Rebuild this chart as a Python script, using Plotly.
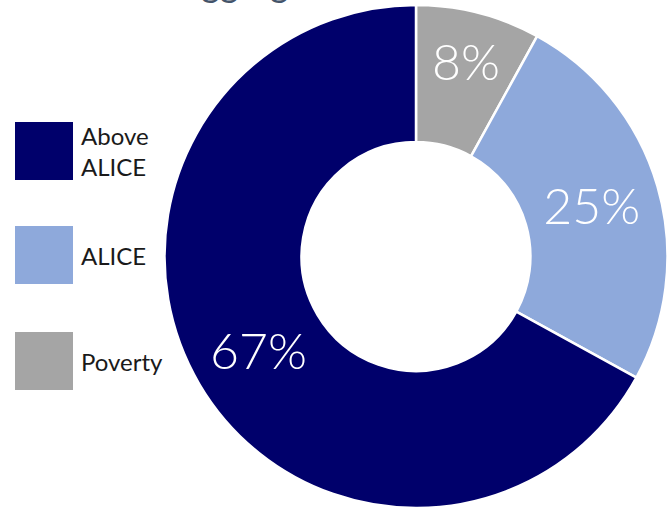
import plotly.graph_objects as go

# ---- data ----
labels = ["Poverty", "ALICE", "Above ALICE"]
values = [8, 25, 67]
pct_text = ["8%", "25%", "67%"]
colors = ["#A5A5A5", "#8EA9DB", "#00006B"]
legend_order = ["Above ALICE", "ALICE", "Poverty"]
legend_text = ["Above<br>ALICE", "ALICE", "Poverty"]
title_text = "Aggregate"

W, H = 672, 508

def px(x):
    return x / W

def py(y):
    return 1 - y / H

cx, r = 416, 251.5
fig = go.Figure(go.Pie(
    labels=labels,
    values=values,
    text=pct_text,
    textinfo="text",
    textposition="inside",
    insidetextorientation="horizontal",
    textfont=dict(family="Lato", size=50, color="white", weight=300),
    marker=dict(colors=colors, line=dict(color="white", width=2.5)),
    hole=0.455,
    sort=False,
    direction="clockwise",
    rotation=0,
    showlegend=False,
    domain=dict(x=[(cx - r) / W, (cx + r) / W], y=[0, 1 - 5 / H]),
    hoverinfo="label+percent",
))

shapes = []
annotations = []
box_tops = [122, 226, 332]
for lab, txt, top in zip(legend_order, legend_text, box_tops):
    c = colors[labels.index(lab)]
    shapes.append(dict(type="rect", xref="paper", yref="paper",
                       x0=px(15), x1=px(73), y0=py(top + 58), y1=py(top),
                       fillcolor=c, line=dict(width=0)))
    annotations.append(dict(text=txt, xref="paper", yref="paper",
                            x=px(79), y=py(top + 29), xanchor="left", yanchor="middle",
                            align="left", showarrow=False,
                            font=dict(family="Lato", size=24, color="#1a1a1a")))

annotations.append(dict(text=title_text, xref="paper", yref="paper",
                        x=px(175), y=py(7), xanchor="left", yanchor="bottom",
                        showarrow=False,
                        font=dict(family="Lato", size=36, color="#44546A")))

fig.update_layout(
    width=W, height=H,
    margin=dict(l=0, r=0, t=0, b=0),
    paper_bgcolor="white",
    plot_bgcolor="white",
    shapes=shapes,
    annotations=annotations,
)

fig.write_html("out.html",
               config={"displayModeBar": False},
               post_script="document.body.style.margin='0';document.body.style.overflow='hidden';")
